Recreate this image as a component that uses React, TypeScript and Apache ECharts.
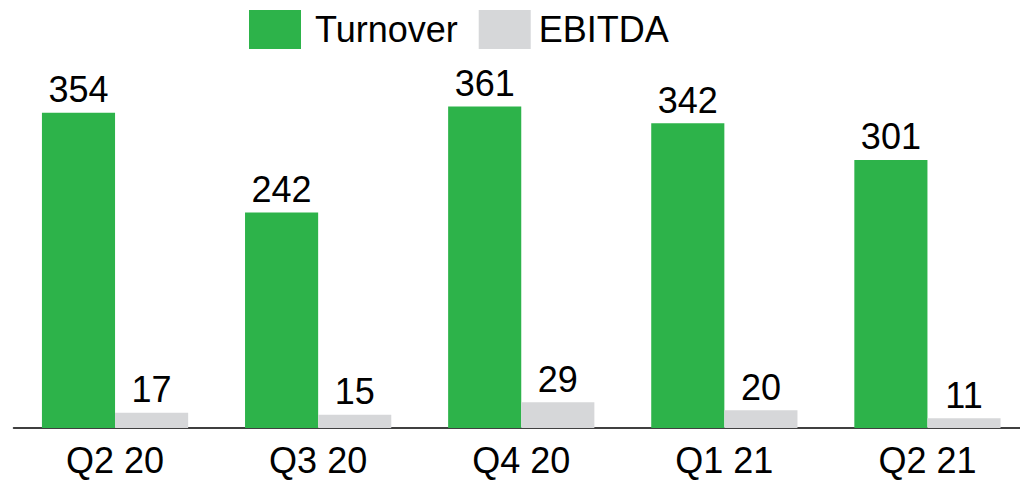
import React, { useEffect, useRef } from "react";
import * as echarts from "echarts";

const categories = ["Q2 20", "Q3 20", "Q4 20", "Q1 21", "Q2 21"];
const turnover = [354, 242, 361, 342, 301];
const ebitda = [17, 15, 29, 20, 11];

const FONT = "'Liberation Sans', Arial, sans-serif";

export default function App() {
  const ref = useRef<HTMLDivElement>(null);
  useEffect(() => {
    if (!ref.current) return;
    const chart = echarts.init(ref.current, undefined, { renderer: "svg" });
    chart.setOption({
      animation: false,
      backgroundColor: "#ffffff",
      textStyle: { fontFamily: FONT },
      legend: {
        left: 249,
        top: 10,
        padding: 0,
        itemWidth: 52,
        itemHeight: 39,
        itemGap: 21,
        icon: "rect",
        textStyle: { fontSize: 36, color: "#000", fontFamily: FONT },
        data: [
          { name: "Turnover", textStyle: { padding: [0, 0, 0, 9] } },
          { name: "EBITDA", textStyle: { padding: [0, 0, 0, 3] } },
        ],
      },
      grid: { left: 13.5, right: 0, top: 71.7, bottom: 53 },
      xAxis: {
        type: "category",
        data: categories,
        axisLine: { lineStyle: { color: "#000", width: 1.5 } },
        axisTick: { show: false },
        axisLabel: { fontSize: 36, color: "#000", margin: 14, fontFamily: FONT },
      },
      yAxis: {
        type: "value",
        min: 0,
        max: 400,
        show: false,
        splitLine: { show: false },
      },
      series: [
        {
          name: "Turnover",
          type: "bar",
          data: turnover,
          barGap: "0%",
          barCategoryGap: "28%",
          itemStyle: { color: "#2DB34A" },
          label: { show: true, position: "top", fontSize: 36, color: "#000", fontFamily: FONT, distance: 5 },
        },
        {
          name: "EBITDA",
          type: "bar",
          data: ebitda,
          barGap: "0%",
          barCategoryGap: "28%",
          itemStyle: { color: "#D6D7D9" },
          label: { show: true, position: "top", fontSize: 36, color: "#000", fontFamily: FONT, distance: 5 },
        },
      ],
    });
    return () => chart.dispose();
  }, []);
  return (
    <div style={{ position: "absolute", left: 0, top: 0, width: 1020, height: 481, overflow: "hidden" }}>
      <div ref={ref} style={{ width: 1028.5, height: 481 }} />
    </div>
  );
}
